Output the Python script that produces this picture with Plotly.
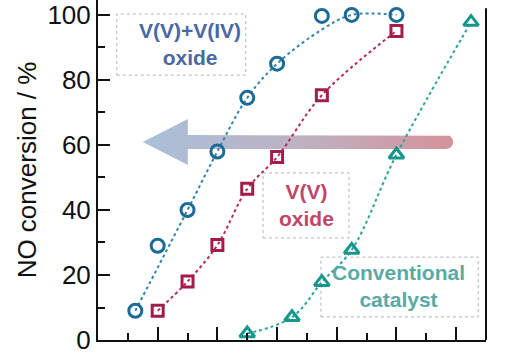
import numpy as np
import plotly.graph_objects as go

# ---- data (x in axis units, y = NO conversion %) ----
vv_iv_x = [1.25, 2, 3, 4, 5, 6, 7.5, 8.5, 10]
vv_iv_y = [9, 29, 40, 58, 74.5, 85, 99.7, 100, 100]
vv_iv_fit_x = [1.25, 3, 4, 5, 6, 7.5, 8.5, 10]
vv_iv_fit_y = [9, 40, 58, 74.5, 85, 95.5, 100, 100]

vv_x = [2, 3, 4, 5, 6, 7.5, 10]
vv_y = [9, 18, 29.2, 46.5, 56.3, 75.3, 95.1]

conv_x = [5, 6.5, 7.5, 8.5, 10, 12.5]
conv_y = [2, 7, 17.8, 27.7, 57, 97.8]

y_ticks = [0, 20, 40, 60, 80, 100]

C_BLUE = "#1b6b96"
C_BLUE_L = "#2f86ad"
C_RED = "#a31c4c"
C_RED_L = "#b42a58"
C_TEAL = "#17968c"
C_TEAL_L = "#2aa39a"
FONT = "Liberation Sans, Arial, sans-serif"

fig = go.Figure()

# ---- gradient arrow (decoration) ----
tip_x, head_x, end_x = 1.5, 3.01, 11.9
yc, head_h, shaft_h = 60.9, 7.1, 2.15
rx = 0.235
theta = np.linspace(np.pi / 2, -np.pi / 2, 15)
ax = [tip_x, head_x, head_x, end_x - rx] + list(end_x - rx + rx * np.cos(theta)) + [end_x - rx, head_x, head_x, tip_x]
ay = [yc, yc + head_h, yc + shaft_h, yc + shaft_h] + list(yc + shaft_h * np.sin(theta)) + [yc - shaft_h, yc - shaft_h, yc - head_h, yc]
fig.add_trace(go.Scatter(
    x=ax, y=ay, mode="lines", fill="toself", line=dict(width=0),
    fillgradient=dict(type="horizontal",
                      colorscale=[[0, "#a9c0d9"], [0.5, "#bdb2c3"], [1, "#d5929a"]]),
    hoverinfo="skip", showlegend=False))

# ---- fitted dotted curves ----
fig.add_trace(go.Scatter(x=vv_iv_fit_x, y=vv_iv_fit_y, mode="lines", line=dict(color=C_BLUE_L, width=2, dash="dot", shape="spline"), showlegend=False))
fig.add_trace(go.Scatter(x=vv_x, y=vv_y, mode="lines", line=dict(color=C_RED_L, width=2, dash="dot", shape="spline"), showlegend=False))
fig.add_trace(go.Scatter(x=conv_x, y=conv_y, mode="lines", line=dict(color=C_TEAL_L, width=2, dash="dot", shape="spline"), showlegend=False))

# ---- markers ----
fig.add_trace(go.Scatter(x=vv_iv_x, y=vv_iv_y, mode="markers", name="V(V)+V(IV) oxide",
                         marker=dict(symbol="circle-open", size=13, color=C_BLUE, line=dict(width=3, color=C_BLUE)), showlegend=False))
fig.add_trace(go.Scatter(x=vv_x, y=vv_y, mode="markers", name="V(V) oxide",
                         marker=dict(symbol="square-open", size=11, color=C_RED, line=dict(width=3, color=C_RED)), showlegend=False))
fig.add_trace(go.Scatter(x=conv_x, y=conv_y, mode="markers", name="Conventional catalyst",
                         marker=dict(symbol="triangle-up-open", size=13, color=C_TEAL, line=dict(width=3, color=C_TEAL)), showlegend=False))

# ---- label boxes ----
boxes = [
    (0.63, 4.95, 81.5, 100.3),
    (5.53, 8.41, 31.4, 51.4),
    (7.47, 12.74, 7.1, 25.5),
]
for x0, x1, y0, y1 in boxes:
    fig.add_shape(type="rect", x0=x0, x1=x1, y0=y0, y1=y1, xref="x", yref="y",
                  line=dict(color="#b4b4b4", width=1, dash="dot"), layer="below")

labels = [
    (3.08, 91, "V(V)+V(IV)<br>oxide", "#4a68a6"),
    (6.97, 41.5, "V(V)<br>oxide", "#c24668"),
    (10.06, 16.5, "Conventional<br>catalyst", "#5aaaa4"),
]
for x, y, t, c in labels:
    fig.add_annotation(x=x, y=y, text=f"<b>{t}</b>", showarrow=False,
                       font=dict(family=FONT, size=21, color=c), align="center")

# right frame line
fig.add_shape(type="line", xref="paper", yref="paper", x0=1, x1=1, y0=0, y1=0.976,
              line=dict(color="#111", width=2))

fig.update_layout(
    width=514, height=360,
    margin=dict(l=98, r=28, t=0, b=20, autoexpand=False),
    paper_bgcolor="white", plot_bgcolor="white",
    font=dict(family=FONT, color="#111"),
)
fig.update_xaxes(range=[0, 13], showgrid=False, zeroline=False, showline=True, linecolor="#111", linewidth=2,
                 ticks="inside", ticklen=13, tickwidth=2, tickcolor="#111", tick0=0, dtick=2,
                 minor=dict(ticks="inside", ticklen=7, tickwidth=2, tickcolor="#111", dtick=1),
                 showticklabels=False, automargin=False)
fig.update_yaxes(range=[0, 104.6], showgrid=False, zeroline=False, showline=True, linecolor="#111", linewidth=2,
                 ticks="inside", ticklen=12, tickwidth=2, tickcolor="#111", tickvals=y_ticks,
                 minor=dict(ticks="inside", ticklen=7, tickwidth=2, tickcolor="#111", dtick=10),
                 tickfont=dict(family=FONT, size=26, color="#111"), automargin=False,
                 title=dict(text="NO conversion / %", font=dict(family=FONT, size=26, color="#111"), standoff=3))

fig.write_html("out.html", config={"displayModeBar": False},
               post_script="document.body.style.margin='0px';")
